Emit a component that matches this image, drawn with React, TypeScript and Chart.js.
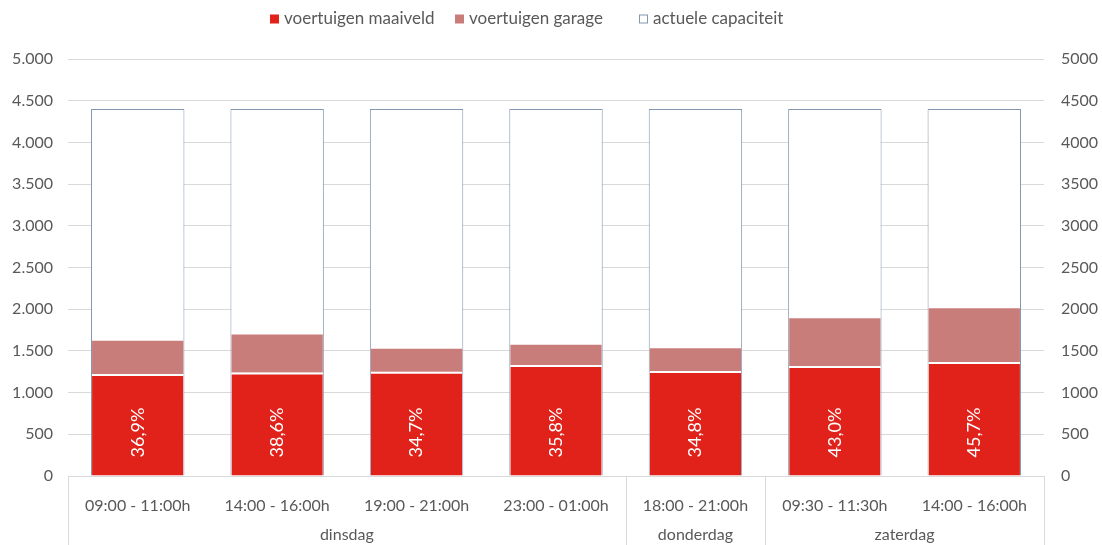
import React, { useEffect, useRef } from "react";
import { Chart, registerables } from "chart.js";

Chart.register(...registerables);

const categories = [
  "09:00 - 11:00h",
  "14:00 - 16:00h",
  "19:00 - 21:00h",
  "23:00 - 01:00h",
  "18:00 - 21:00h",
  "09:30 - 11:30h",
  "14:00 - 16:00h",
];
const groupLabels = ["dinsdag", "donderdag", "zaterdag"];
const groupSizes = [4, 1, 2];
const seriesNames = ["voertuigen maaiveld", "voertuigen garage", "actuele capaciteit"];
const maaiveld = [1223, 1240, 1250, 1331, 1259, 1319, 1367];
const garage = [400, 458, 277, 244, 272, 573, 644];
const capacity = [4400, 4400, 4400, 4400, 4400, 4400, 4400];
const pctLabels = ["36,9%", "38,6%", "34,7%", "35,8%", "34,8%", "43,0%", "45,7%"];
const yMin = 0;
const yMax = 5000;
const yStep = 500;
const pctLabelValue = 522;

const FONT = "Lato, 'Open Sans', sans-serif";
const TEXT = "#595959";
const RED = "#E0221A";
const GARAGE = "#C97D7B";
const CAP_BORDER = "#8497B0";
const GRID = "#D9D9D9";
const LEGEND_X = [270, 455, 639];

const overlayPlugin = {
  id: "overlay",
  afterDatasetsDraw(chart: any) {
    const ctx = chart.ctx;
    const y = chart.scales.y;
    const meta = chart.getDatasetMeta(0);
    ctx.save();
    ctx.fillStyle = "#ffffff";
    ctx.font = `18px ${FONT}`;
    ctx.textAlign = "center";
    ctx.textBaseline = "middle";
    meta.data.forEach((bar: any, i: number) => {
      ctx.save();
      ctx.translate(bar.x, y.getPixelForValue(pctLabelValue));
      ctx.rotate(-Math.PI / 2);
      ctx.fillText(pctLabels[i], 0, 0);
      ctx.restore();
    });
    ctx.restore();
  },
  afterDraw(chart: any) {
    const ctx = chart.ctx;
    const x = chart.scales.x;
    const area = chart.chartArea;
    const H = chart.height;
    const bounds: number[] = [area.left];
    let idx = 0;
    groupSizes.forEach((s, gi) => {
      idx += s;
      if (gi < groupSizes.length - 1) {
        bounds.push((x.getPixelForValue(idx - 1) + x.getPixelForValue(idx)) / 2);
      }
    });
    bounds.push(area.right);
    ctx.save();
    ctx.strokeStyle = GRID;
    ctx.lineWidth = 1;
    bounds.forEach((b) => {
      const bx = Math.round(b) + 0.5;
      ctx.beginPath();
      ctx.moveTo(bx, area.bottom);
      ctx.lineTo(bx, H);
      ctx.stroke();
    });
    ctx.fillStyle = TEXT;
    ctx.font = `16px ${FONT}`;
    ctx.textAlign = "center";
    ctx.textBaseline = "middle";
    groupLabels.forEach((g, gi) => {
      ctx.fillText(g, (bounds[gi] + bounds[gi + 1]) / 2, 535);
    });
    const colors = [RED, GARAGE, "#ffffff"];
    const ly = 19;
    ctx.textAlign = "left";
    ctx.font = `17px ${FONT}`;
    seriesNames.forEach((name, i) => {
      const lx = LEGEND_X[i];
      ctx.fillStyle = colors[i];
      ctx.fillRect(lx, ly - 4.5, 9, 9);
      if (i === 2) {
        ctx.strokeStyle = CAP_BORDER;
        ctx.strokeRect(lx + 0.5, ly - 4, 8, 8);
      }
      ctx.fillStyle = TEXT;
      ctx.fillText(name, lx + 14, ly);
    });
    ctx.restore();
  },
};

export default function App() {
  const ref = useRef<HTMLCanvasElement | null>(null);
  useEffect(() => {
    document.body.style.margin = "0";
    if (!ref.current) return;
    const chart = new Chart(ref.current, {
      type: "bar",
      data: {
        labels: categories,
        datasets: [
          {
            label: seriesNames[0],
            data: maaiveld,
            backgroundColor: RED,
            borderColor: "#ffffff",
            borderWidth: { top: 2, left: 0, right: 0, bottom: 0 },
            borderSkipped: false,
            stack: "a",
            grouped: false,
            barPercentage: 0.655,
            categoryPercentage: 1,
          } as any,
          {
            label: seriesNames[1],
            data: garage,
            backgroundColor: GARAGE,
            borderWidth: 0,
            stack: "a",
            grouped: false,
            barPercentage: 0.655,
            categoryPercentage: 1,
          } as any,
          {
            label: seriesNames[2],
            data: capacity,
            backgroundColor: "#ffffff",
            borderColor: CAP_BORDER,
            borderWidth: 1,
            stack: "b",
            grouped: false,
            barPercentage: 0.67,
            categoryPercentage: 1,
          } as any,
        ],
      },
      options: {
        responsive: false,
        animation: false,
        layout: { padding: { top: 59, left: 0, right: 0, bottom: 0 } },
        plugins: { legend: { display: false }, tooltip: { enabled: false } },
        scales: {
          x: {
            stacked: true,
            grid: { display: false },
            border: { display: true, color: GRID },
            ticks: { color: TEXT, font: { family: FONT, size: 16 }, padding: 12, maxRotation: 0, autoSkip: false },
            afterFit: (s: any) => {
              s.height = 69;
            },
          },
          y: {
            stacked: true,
            position: "left",
            min: yMin,
            max: yMax,
            grid: { color: GRID, drawTicks: false },
            border: { display: false },
            ticks: {
              stepSize: yStep,
              color: TEXT,
              font: { family: FONT, size: 16 },
              padding: 15,
              callback: (v: any) => String(v).replace(/\B(?=(\d{3})+(?!\d))/g, "."),
            },
            afterFit: (s: any) => {
              s.width = 68;
            },
          },
          y2: {
            position: "right",
            min: yMin,
            max: yMax,
            grid: { display: false, drawTicks: false },
            border: { display: false },
            ticks: {
              stepSize: yStep,
              color: TEXT,
              font: { family: FONT, size: 16 },
              padding: 17,
              callback: (v: any) => String(v),
            },
            afterFit: (s: any) => {
              s.width = 58;
            },
          },
        },
      },
      plugins: [overlayPlugin],
    });
    return () => chart.destroy();
  }, []);
  return (
    <div style={{ position: "absolute", left: 0, top: 0, width: 1102, height: 545 }}>
      <canvas ref={ref} width={1102} height={545} />
    </div>
  );
}
